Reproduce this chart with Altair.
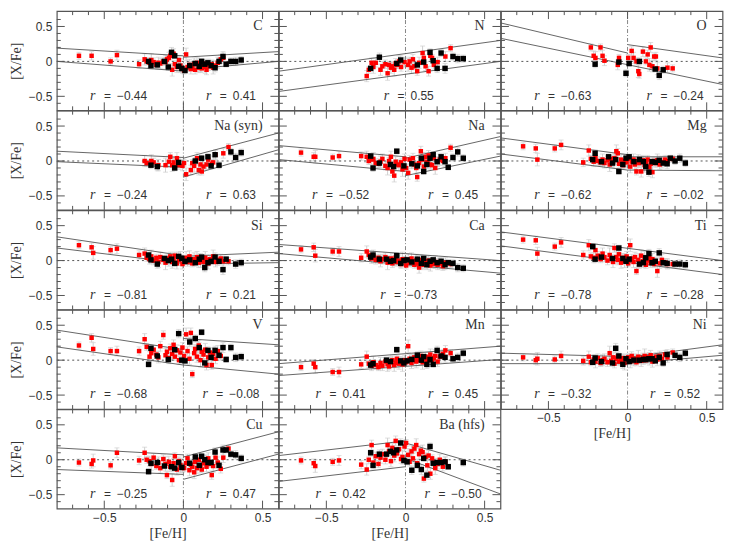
import altair as alt
import pandas as pd

# ---------------- data ----------------
red_feh = [-0.66, -0.58, -0.57, -0.46, -0.42, -0.28, -0.245, -0.232, -0.214, -0.203,
           -0.188, -0.171, -0.158, -0.146, -0.127, -0.113, -0.104, -0.092, -0.083, -0.071,
           -0.062, -0.054, -0.041, -0.028, -0.019, -0.006, 0.004, 0.017, 0.026, 0.038,
           0.047, 0.056, 0.068, 0.074, 0.086, 0.097, 0.108, 0.116, 0.127, 0.138,
           0.146, 0.157, 0.168, 0.179, 0.188, 0.203, 0.217, 0.236, 0.252, 0.285]
red_err = [0.05, 0.06, 0.09, 0.05, 0.07, 0.06, 0.08, 0.05, 0.07, 0.09,
           0.06, 0.05, 0.08, 0.07, 0.06, 0.10, 0.05, 0.08, 0.06, 0.09,
           0.07, 0.05, 0.08, 0.06, 0.10, 0.07, 0.05, 0.09, 0.06, 0.08,
           0.07, 0.05, 0.09, 0.06, 0.08, 0.07, 0.10, 0.05, 0.06, 0.09,
           0.07, 0.08, 0.05, 0.06, 0.09, 0.07, 0.08, 0.06, 0.07, 0.05]
black_feh = [-0.22, -0.205, -0.165, -0.12, -0.095, -0.075, -0.055, -0.03, -0.01, 0.01,
             0.04, 0.075, 0.1, 0.115, 0.135, 0.155, 0.175, 0.2, 0.225, 0.25,
             0.27, 0.3, 0.33, 0.365]
black_err = [0.04, 0.05, 0.06, 0.04, 0.05, 0.07, 0.04, 0.06, 0.05, 0.04,
             0.06, 0.05, 0.07, 0.04, 0.06, 0.05, 0.04, 0.06, 0.05, 0.07,
             0.04, 0.05, 0.06, 0.05]

C_red = [0.08, 0.08, None, 0.0, 0.09, -0.04, 0.03, 0.0, -0.02, 0.02,
         -0.01, -0.05, -0.02, -0.03, 0.0, -0.01, 0.03, 0.05, 0.08, -0.12,
         0.11, -0.04, -0.08, 0.02, -0.06, -0.1, -0.13, 0.1, -0.08, -0.05,
         -0.11, -0.07, -0.04, -0.12, -0.02, -0.09, -0.06, -0.1, -0.03, -0.08,
         -0.12, -0.05, -0.07, -0.04, -0.09, -0.06, -0.02, 0.03, 0.05, None]
C_black = [0.0, -0.06, -0.05, 0.0, -0.08, 0.13, 0.08, -0.07, -0.1, -0.13, -0.06, -0.03,
           -0.07, 0.0, -0.04, -0.02, -0.06, -0.09, 0.0, 0.07, -0.04, 0.0, 0.0, 0.02]
C_lines = [(-0.8, 0.19, 0, 0.08), (-0.8, 0.0, 0, -0.14), (0, 0.06, 0.6, 0.14), (0, -0.12, 0.6, 0.0)]
C_r = ["−0.44", "0.41"]

N_red = [None, None, None, None, None, None, -0.21, -0.12, -0.02, -0.08,
         -0.02, None, -0.12, -0.07, -0.04, -0.17, -0.05, -0.09, -0.07, -0.12,
         -0.03, -0.05, 0.0, -0.08, None, -0.01, None, -0.05, 0.0, -0.09,
         0.03, -0.07, None, -0.14, -0.02, None, 0.12, 0.05, -0.07, None,
         -0.14, 0.08, 0.05, -0.05, None, -0.01, None, None, 0.07, 0.19]
N_black = [-0.1, None, 0.06, None, None, None, -0.03, 0.02, None, None, None, -0.05,
           None, -0.01, None, 0.13, 0.01, -0.1, 0.12, -0.1, None, 0.07, 0.04, 0.04]
N_lines = [(-0.8, -0.14, 0.6, 0.30), (-0.8, -0.43, 0.6, 0.0)]
N_r = ["0.55"]

O_red = [None, None, None, None, None, None, None, 0.2, 0.08, 0.05,
         None, 0.2, 0.08, 0.01, None, None, None, None, None, None,
         -0.05, 0.05, None, None, None, None, 0.05, None, 0.15, 0.05,
         None, 0.0, -0.14, -0.18, None, 0.14, None, 0.0, 0.1, -0.05,
         0.2, -0.07, 0.07, 0.07, -0.1, None, None, None, -0.09, -0.1]
O_black = [None, -0.04, None, None, None, None, -0.01, None, -0.17, -0.03, None, 0.0,
           None, None, None, None, -0.11, -0.2, -0.12, None, None, None, None, None]
O_lines = [(-0.8, 0.55, 0, 0.12), (-0.8, 0.33, 0.6, -0.33), (0, 0.24, 0.6, 0.05)]
O_r = ["−0.63", "−0.24"]

NaS_red = [None, None, None, None, None, None, 0.0, -0.03, None, 0.0,
           -0.02, None, -0.06, None, None, -0.06, None, -0.01, 0.06, -0.06,
           -0.02, -0.08, 0.04, -0.06, None, -0.07, -0.03, -0.19, None, None,
           -0.13, -0.03, -0.07, None, 0.04, -0.13, -0.05, -0.15, -0.08, None,
           -0.05, 0.02, None, -0.04, -0.02, 0.09, None, None, 0.11, 0.2]
NaS_black = [None, -0.06, -0.08, None, None, None, -0.1, -0.02, None, None, None, 0.0,
             None, 0.04, None, 0.06, -0.07, 0.09, -0.06, None, None, 0.13, 0.05, 0.12]
NaS_lines = [(-0.8, 0.14, 0, 0.05), (-0.8, -0.01, 0, -0.09), (0, 0.04, 0.6, 0.40), (0, -0.23, 0.6, 0.16)]
NaS_r = ["−0.24", "0.63"]

Na_red = [0.12, 0.06, 0.06, 0.05, 0.07, 0.07, 0.06, 0.0, 0.02, 0.03,
          -0.03, -0.04, -0.01, 0.03, -0.07, -0.1, 0.0, 0.06, -0.15, -0.21,
          -0.01, -0.05, -0.06, -0.02, -0.12, 0.03, -0.1, -0.17, 0.02, -0.03,
          0.04, -0.05, -0.1, -0.23, -0.03, 0.14, 0.02, -0.08, 0.06, -0.01,
          0.08, -0.05, -0.06, 0.04, -0.1, -0.01, 0.02, 0.0, 0.04, 0.19]
Na_black = [0.07, -0.1, -0.03, None, -0.05, -0.08, 0.14, None, -0.07, None, -0.04, -0.07,
            0.04, -0.15, -0.05, 0.04, 0.09, -0.01, 0.06, -0.01, -0.09, 0.05, 0.13, 0.04]
Na_lines = [(-0.8, 0.22, 0, 0.06), (-0.8, 0.02, 0, -0.15), (0, 0.04, 0.6, 0.35), (0, -0.21, 0.6, 0.07)]
Na_r = ["−0.52", "0.45"]

Mg_red = [0.21, 0.18, 0.02, 0.18, 0.23, -0.02, 0.15, 0.03, -0.01, 0.05,
          0.0, -0.02, 0.02, -0.03, 0.01, -0.05, 0.03, -0.01, 0.04, 0.14,
          0.11, -0.04, 0.02, -0.06, 0.0, -0.02, 0.03, -0.08, -0.01, 0.02,
          -0.05, -0.15, 0.0, -0.03, -0.15, 0.01, -0.06, -0.02, 0.02, -0.09,
          -0.04, -0.16, 0.0, -0.03, 0.01, -0.05, -0.02, 0.02, 0.0, 0.03]
Mg_black = [0.02, 0.11, -0.01, 0.06, -0.03, 0.02, -0.15, -0.05, 0.04, 0.06, -0.01, 0.02,
            -0.01, -0.08, -0.16, -0.01, -0.02, 0.01, -0.03, -0.04, 0.04, 0.0, 0.04, -0.03]
Mg_lines = [(-0.8, 0.33, 0, 0.09), (-0.8, 0.10, 0, -0.13), (0, 0.06, 0.6, 0.06), (0, -0.13, 0.6, -0.14)]
Mg_r = ["−0.62", "−0.02"]

Si_red = [0.22, 0.19, 0.11, 0.15, 0.17, 0.08, 0.1, 0.04, 0.02, 0.06,
          0.0, 0.04, -0.02, 0.05, 0.01, -0.03, 0.03, 0.0, 0.06, -0.02,
          0.02, 0.07, -0.04, 0.01, 0.03, -0.05, 0.0, 0.04, -0.02, 0.06,
          0.01, -0.04, 0.02, -0.01, 0.05, -0.03, 0.0, 0.03, -0.02, 0.04,
          0.01, -0.04, 0.02, 0.0, 0.06, -0.02, 0.01, 0.03, -0.01, -0.01]
Si_black = [0.08, 0.01, -0.05, 0.03, 0.0, 0.02, -0.04, 0.06, 0.03, -0.01, 0.01, -0.03,
            0.02, 0.05, -0.1, -0.03, -0.01, 0.05, -0.01, -0.13, 0.02, None, -0.05, -0.03]
Si_lines = [(-0.8, 0.34, 0, 0.07), (-0.8, 0.18, 0, -0.04), (0, 0.06, 0.6, 0.12), (0, -0.05, 0.6, -0.03)]
Si_r = ["−0.81", "0.21"]

Ca_red = [0.16, 0.19, 0.07, 0.13, 0.13, 0.04, 0.13, 0.08, 0.03, 0.06,
          0.01, 0.04, -0.01, 0.02, 0.05, -0.03, 0.0, 0.03, -0.04, 0.01,
          0.04, -0.02, 0.0, -0.05, 0.02, -0.01, -0.07, 0.01, -0.03, 0.03,
          -0.02, -0.06, 0.0, -0.04, -0.1, 0.01, -0.03, -0.06, -0.01, -0.04,
          0.0, -0.07, -0.03, -0.05, -0.02, -0.06, -0.04, -0.08, -0.03, -0.05]
Ca_black = [0.05, 0.08, 0.02, 0.02, -0.01, 0.0, 0.07, -0.04, 0.0, 0.01, -0.02, 0.02,
            -0.04, 0.03, -0.06, -0.01, 0.01, -0.03, -0.01, -0.06, -0.03, -0.04, -0.1, -0.11]
Ca_lines = [(-0.8, 0.23, 0.6, 0.0), (-0.8, 0.10, 0.6, -0.18)]
Ca_r = ["−0.73"]

Ti_red = [0.3, 0.29, 0.1, 0.2, 0.26, 0.08, 0.22, 0.06, 0.04, 0.15,
          0.07, 0.02, 0.1, 0.05, 0.0, 0.08, 0.03, -0.02, 0.18, 0.05,
          0.01, 0.09, -0.03, 0.04, 0.0, 0.06, -0.04, 0.22, 0.03, -0.02,
          0.05, -0.15, 0.01, -0.05, 0.07, -0.01, 0.03, -0.06, 0.0, 0.04,
          -0.03, 0.02, -0.05, -0.01, -0.15, -0.04, 0.01, -0.03, -0.05, -0.05]
Ti_black = [0.2, 0.02, 0.05, None, 0.03, None, 0.18, 0.03, -0.01, 0.02, None, -0.05,
            -0.03, 0.04, 0.1, -0.03, -0.01, 0.11, -0.03, -0.04, None, -0.05, -0.05, -0.06]
Ti_lines = [(-0.8, 0.41, 0.6, 0.0), (-0.8, 0.21, 0.6, -0.20)]
Ti_r = ["−0.78", "−0.28"]

V_red = [0.21, 0.32, 0.16, 0.13, 0.13, 0.13, 0.3, 0.19, 0.05, 0.1,
         0.15, 0.08, 0.04, 0.2, 0.36, 0.07, 0.12, 0.03, 0.17, 0.09,
         0.22, 0.05, 0.14, 0.0, 0.11, 0.18, 0.06, 0.37, 0.13, 0.02,
         0.39, -0.2, 0.1, 0.16, 0.05, 0.21, 0.0, 0.12, 0.08, 0.15,
         -0.07, 0.04, 0.11, -0.07, 0.09, 0.02, 0.13, 0.06, None, None]
V_black = [-0.06, 0.17, 0.06, None, 0.01, None, 0.15, 0.38, 0.0, -0.01, 0.26, 0.31,
           0.18, 0.4, -0.04, 0.14, 0.04, 0.14, 0.07, 0.18, 0.01, 0.18, 0.04, 0.05]
V_lines = [(-0.8, 0.43, 0, 0.15), (-0.8, 0.19, 0, -0.07), (0, 0.31, 0.6, 0.22), (0, -0.07, 0.6, -0.20)]
V_r = ["−0.68", "−0.08"]

Mn_red = [-0.1, -0.05, -0.1, -0.17, -0.17, -0.06, 0.05, -0.05, -0.08, -0.03,
          -0.07, -0.1, -0.04, -0.08, -0.02, -0.06, -0.09, -0.03, 0.0, -0.07,
          -0.04, 0.02, -0.05, -0.02, -0.06, 0.0, -0.03, 0.2, 0.02, -0.04,
          0.01, 0.04, -0.02, 0.03, 0.0, 0.06, -0.03, 0.02, 0.05, -0.01,
          0.04, 0.08, 0.0, 0.03, 0.06, -0.02, 0.05, 0.09, 0.14, 0.1]
Mn_black = [-0.07, -0.05, None, 0.0, -0.02, None, 0.15, -0.01, -0.04, -0.01, 0.01, 0.07,
            0.0, 0.05, -0.06, 0.01, -0.06, 0.14, 0.06, 0.04, None, 0.02, 0.04, 0.1]
Mn_lines = [(-0.8, -0.05, 0.6, 0.20), (-0.8, -0.22, 0.6, 0.01)]
Mn_r = ["0.41", "0.45"]

Ni_red = [0.04, 0.0, 0.02, 0.01, 0.06, -0.01, 0.05, -0.03, 0.01, -0.02,
          0.03, -0.04, 0.0, 0.02, -0.03, 0.1, -0.01, 0.04, -0.05, 0.02,
          0.05, -0.02, 0.0, 0.03, -0.04, 0.01, 0.04, -0.02, 0.06, 0.0,
          0.02, -0.03, 0.05, 0.01, -0.01, 0.03, 0.06, 0.0, 0.04, 0.02,
          0.07, -0.02, 0.03, 0.05, 0.01, 0.06, 0.02, 0.08, 0.04, 0.11]
Ni_black = [-0.03, 0.03, -0.02, None, -0.04, 0.17, 0.06, -0.06, 0.02, -0.02, 0.0, 0.0,
            0.01, 0.01, 0.02, 0.02, -0.01, 0.04, -0.04, 0.08, None, 0.07, 0.04, 0.1]
Ni_lines = [(-0.8, 0.10, 0, 0.05), (-0.8, -0.05, 0, -0.05), (0, 0.04, 0.6, 0.22), (0, -0.05, 0.6, 0.07)]
Ni_r = ["−0.32", "0.52"]

Cu_red = [-0.04, -0.06, -0.01, -0.08, 0.1, -0.01, 0.1, 0.0, -0.02, -0.06,
          0.03, -0.09, -0.04, -0.12, 0.01, -0.06, -0.22, -0.03, -0.1, -0.29,
          -0.05, 0.05, -0.14, -0.02, -0.08, -0.11, -0.12, -0.05, 0.02, -0.15,
          -0.07, -0.1, -0.18, -0.03, -0.12, 0.0, -0.08, -0.14, -0.05, -0.02,
          -0.1, 0.02, -0.06, -0.22, -0.09, 0.03, -0.04, -0.13, 0.03, 0.16]
Cu_black = [-0.17, -0.05, -0.04, -0.09, None, -0.1, -0.12, -0.04, -0.11, None, -0.05, 0.04,
            -0.08, 0.05, 0.0, -0.04, -0.04, 0.11, -0.08, 0.14, 0.14, 0.08, 0.07, 0.02]
Cu_lines = [(-0.8, 0.17, 0, 0.07), (-0.8, -0.14, 0, -0.21), (0, 0.04, 0.6, 0.40), (0, -0.28, 0.6, 0.08)]
Cu_r = ["−0.25", "0.47"]

Ba_red = [-0.01, -0.05, -0.09, -0.03, -0.01, -0.07, -0.14, 0.0, 0.21, -0.04,
          0.05, -0.06, 0.03, 0.08, 0.0, 0.21, 0.12, -0.02, 0.17, 0.06,
          0.27, 0.09, 0.15, 0.01, 0.04, 0.19, 0.24, 0.07, -0.03, 0.12,
          0.02, 0.16, 0.21, -0.05, 0.08, 0.13, 0.11, -0.27, 0.04, -0.08,
          0.06, -0.2, 0.02, -0.04, -0.12, -0.06, 0.0, -0.1, -0.03, None]
Ba_black = [0.1, -0.08, 0.08, 0.08, 0.12, 0.1, 0.14, 0.24, -0.01, -0.03, -0.15, -0.08,
            -0.14, 0.02, -0.22, 0.19, -0.05, -0.04, -0.04, -0.03, -0.1, None, None, -0.04]
Ba_lines = [(-0.8, 0.06, 0, 0.27), (-0.8, -0.31, 0, -0.10), (0, 0.24, 0.6, -0.15), (0, 0.02, 0.6, -0.49)]
Ba_r = ["0.42", "−0.50"]

panels = [
    ("C", C_red, C_black, C_lines, C_r),
    ("N", N_red, N_black, N_lines, N_r),
    ("O", O_red, O_black, O_lines, O_r),
    ("Na (syn)", NaS_red, NaS_black, NaS_lines, NaS_r),
    ("Na", Na_red, Na_black, Na_lines, Na_r),
    ("Mg", Mg_red, Mg_black, Mg_lines, Mg_r),
    ("Si", Si_red, Si_black, Si_lines, Si_r),
    ("Ca", Ca_red, Ca_black, Ca_lines, Ca_r),
    ("Ti", Ti_red, Ti_black, Ti_lines, Ti_r),
    ("V", V_red, V_black, V_lines, V_r),
    ("Mn", Mn_red, Mn_black, Mn_lines, Mn_r),
    ("Ni", Ni_red, Ni_black, Ni_lines, Ni_r),
    ("Cu", Cu_red, Cu_black, Cu_lines, Cu_r),
    ("Ba (hfs)", Ba_red, Ba_black, Ba_lines, Ba_r),
]
x_ticks_major = [-0.5, 0, 0.5]
x_ticks_minor = [-0.7, -0.6, -0.4, -0.3, -0.2, -0.1, 0.1, 0.2, 0.3, 0.4]
y_ticks_major = [-0.5, 0, 0.5]
y_ticks_minor = [-0.6, -0.4, -0.3, -0.2, -0.1, 0.1, 0.2, 0.3, 0.4, 0.6]

# ---------------- style ----------------
W, H = 222.5, 99.6
FRAME = "#555555"
TXT = "#333333"
ERR = "#cfcfcf"
SANS = "Liberation Sans"
SERIF = "Liberation Serif"
xs = alt.Scale(domain=[-0.8, 0.6], nice=False, zero=False)
ys = alt.Scale(domain=[-0.7, 0.72], nice=False, zero=False)
LBL = "datum.value == 0 ? '0' : format(datum.value, '.1f')"


def panel(name, ry, by, segs, rvals, show_x, show_y):
    xaxis = (alt.Axis(values=x_ticks_major, labelExpr=LBL, ticks=False, domain=False, grid=False,
                      labelFont=SANS, labelFontSize=12, labelColor=TXT, labelPadding=4,
                      title="[Fe/H]", titleFont=SERIF, titleFontSize=14, titleFontWeight="normal",
                      titleColor=TXT, titlePadding=3) if show_x else None)
    yaxis = (alt.Axis(values=y_ticks_major, labelExpr=LBL, ticks=False, domain=False, grid=False,
                      labelFont=SANS, labelFontSize=12, labelColor=TXT, labelPadding=5,
                      title="[X/Fe]", titleFont=SERIF, titleFontSize=14, titleFontWeight="normal",
                      titleColor=TXT, titlePadding=5) if show_y else None)

    def X(f):
        return alt.X(f, type="quantitative", scale=xs, axis=xaxis)

    def Y(f):
        return alt.Y(f, type="quantitative", scale=ys, axis=yaxis)

    rows = []
    for i, v in enumerate(ry):
        if v is not None:
            rows.append({"x": red_feh[i], "y": v, "lo": v - red_err[i], "hi": v + red_err[i], "g": "r"})
    for i, v in enumerate(by):
        if v is not None:
            rows.append({"x": black_feh[i], "y": v, "lo": v - black_err[i], "hi": v + black_err[i], "g": "b"})
    pts = pd.DataFrame(rows)
    caps = pd.concat([pts[["x", "lo"]].rename(columns={"lo": "y"}),
                      pts[["x", "hi"]].rename(columns={"hi": "y"})])
    seg = pd.DataFrame(segs, columns=["x1", "y1", "x2", "y2"])

    # r labels
    if len(rvals) == 2:
        centers = [-0.41, 0.30]
    else:
        centers = [0.02]
    rl = []
    for c, v in zip(centers, rvals):
        start = c - (0.18 if v.startswith("−") else 0.158)
        rl.append({"x": start, "y": -0.49, "t": "=\u2002" + v})
    rdf = pd.DataFrame(rl)

    layers = [
        alt.Chart(pts).mark_rule(color=ERR, strokeWidth=1).encode(x=X("x"), y=Y("lo"), y2="hi"),
        alt.Chart(caps).mark_tick(orient="horizontal", color=ERR, size=5, thickness=1).encode(x=X("x"), y=Y("y")),
        alt.Chart(pd.DataFrame({"y": [0]})).mark_rule(color=FRAME, strokeWidth=1, strokeDash=[2, 3]).encode(y=Y("y")),
        alt.Chart(pd.DataFrame({"x": [0]})).mark_rule(color="#666666", strokeWidth=0.8, strokeDash=[4, 2, 1, 2]).encode(x=X("x")),
        alt.Chart(seg).mark_rule(color=FRAME, strokeWidth=0.9).encode(x=X("x1"), y=Y("y1"), x2="x2", y2="y2"),
        alt.Chart(pts[pts.g == "r"]).mark_square(color="#ff0000", size=20, opacity=1, filled=True).encode(x=X("x"), y=Y("y")),
        alt.Chart(pts[pts.g == "b"]).mark_square(color="#000000", size=30, opacity=1, filled=True).encode(x=X("x"), y=Y("y")),
        alt.Chart(pd.DataFrame({"x": [0.5], "y": [0.5], "t": [name]})).mark_text(
            align="right", baseline="middle", font=SERIF, fontSize=14, color=TXT).encode(x=X("x"), y=Y("y"), text="t"),
        alt.Chart(rdf).mark_text(align="left", baseline="middle", font=SERIF, fontStyle="italic",
                                 fontSize=14, color=TXT).encode(x=X("x"), y=Y("y"), text=alt.value("r")),
        alt.Chart(rdf).mark_text(align="left", baseline="middle", dx=14, font=SANS,
                                 fontSize=12, color=TXT).encode(x=X("x"), y=Y("y"), text="t"),
    ]
    # inward ticks on all four sides
    for vals, L in ((x_ticks_major, 8), (x_ticks_minor, 4)):
        d = pd.DataFrame({"v": vals})
        layers.append(alt.Chart(d).mark_rule(color=FRAME).encode(x=X("v"), y=alt.value(0), y2=alt.value(L)))
        layers.append(alt.Chart(d).mark_rule(color=FRAME).encode(x=X("v"), y=alt.value(H), y2=alt.value(H - L)))
    for vals, L in ((y_ticks_major, 8), (y_ticks_minor, 4)):
        d = pd.DataFrame({"v": vals})
        layers.append(alt.Chart(d).mark_rule(color=FRAME).encode(y=Y("v"), x=alt.value(0), x2=alt.value(L)))
        layers.append(alt.Chart(d).mark_rule(color=FRAME).encode(y=Y("v"), x=alt.value(W), x2=alt.value(W - L)))
    return alt.layer(*layers).properties(width=W, height=H)


charts = []
for k, (name, ry, by, segs, rv) in enumerate(panels):
    show_y = (k % 3 == 0)
    show_x = name in ("Ni", "Cu", "Ba (hfs)")
    charts.append(panel(name, ry, by, segs, rv, show_x, show_y))

chart = alt.concat(*charts, columns=3, spacing=0, bounds="flush").properties(
    padding={"left": 0, "top": 0, "right": 4, "bottom": 4}
).configure_view(stroke=FRAME, strokeWidth=1.2)

chart.save("out.html", embed_options={"renderer": "svg", "actions": False})
